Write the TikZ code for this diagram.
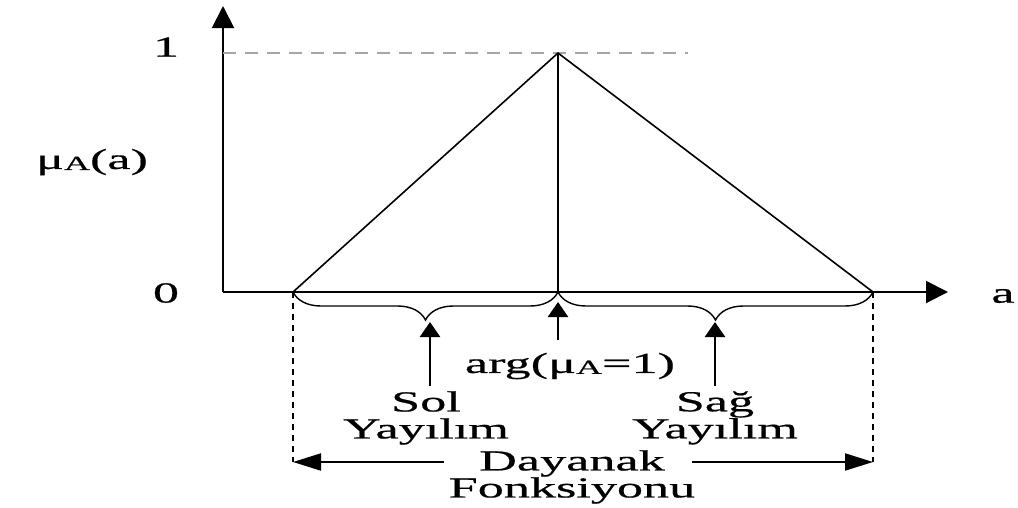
\documentclass[tikz,border=0pt]{standalone}
\usepackage{fontspec}
\setmainfont[FakeStretch=1.8,FakeBold=0.6]{Liberation Serif}
\usetikzlibrary{arrows.meta,decorations.pathreplacing}
\tikzset{
  axis/.style={line width=2pt,-{Triangle[length=22pt,width=22pt]}},
  curve/.style={line width=1.6pt},
  lbl/.style={font=\fontsize{29}{27}\selectfont,inner sep=0pt,align=center},
  uparrow/.style={line width=2.4pt,-{Triangle[length=15pt,width=20pt]}},
  guide/.style={line width=2pt,dash pattern=on 6pt off 5pt},
  span/.style={line width=2pt,-{Triangle[length=28pt,width=17pt]}},
  brace/.style={line width=1.4pt,decorate,decoration={brace,mirror,amplitude=28pt,aspect=0.5}},
}
\newcommand{\subA}{\raisebox{-1pt}{\fontsize{20}{22}\selectfont A}}
\begin{document}
\begin{tikzpicture}[x=1pt,y=-1pt]
\useasboundingbox (0,0) rectangle (1018,507);
% key points of the triangular membership function
\coordinate (O) at (223,292);
\coordinate (L) at (293,292);
\coordinate (P) at (558,53);
\coordinate (M) at (558,292);
\coordinate (R) at (873,292);
\coordinate (Ytop) at (223,6);
\coordinate (Xend) at (948,292);
\coordinate (Dstart) at (223,53);
\coordinate (Dend) at (688,53);
% axes
\draw[axis] (O) -- (Ytop);
\draw[axis] (O) -- (Xend);
\draw[line width=1.8pt,gray!70,dash pattern=on 13pt off 9pt] (Dstart) -- (Dend);
% triangle
\draw[curve] (L) -- (P) -- (R);
\draw[curve] (P) -- (M);
% axis labels
\node[lbl] (one) at (166,47) {1};
\node[lbl] (zero) at (166,293) {0};
\node[lbl] (mu) at (92,162) {μ\subA(a)};
\node[lbl] (avar) at (1003,296) {a};
% braces under the axis
\draw[brace] (L) -- (M);
\draw[brace] (M) -- (R);
\coordinate (ltip) at (430,322);
\coordinate (rtip) at (715,322);
\coordinate (mtip) at (558,302);
% arrows pointing at the braces
\coordinate (lbase) at (430,386);
\coordinate (rbase) at (715,386);
\coordinate (mbase) at (558,340);
\draw[uparrow] (lbase) -- (ltip);
\draw[uparrow] (rbase) -- (rtip);
\draw[uparrow] (mbase) -- (mtip);
\node[lbl] (arg) at (570,366) {arg(μ\subA=1)};
\node[lbl] (sol) at (426,418) {Sol\\Yayılım};
\node[lbl] (sag) at (715,418) {Sağ\\Yayılım};
% support span
\coordinate (Lb) at (293,462);
\coordinate (Rb) at (873,462);
\draw[guide] (L) -- (Lb);
\draw[guide] (R) -- (Rb);
\node[lbl] (day) at (572,477) {Dayanak\\Fonksiyonu};
\coordinate (dl) at (444,462);
\coordinate (dr) at (692,462);
\draw[span] (dl) -- (Lb);
\draw[span] (dr) -- (Rb);
\end{tikzpicture}
\end{document}
